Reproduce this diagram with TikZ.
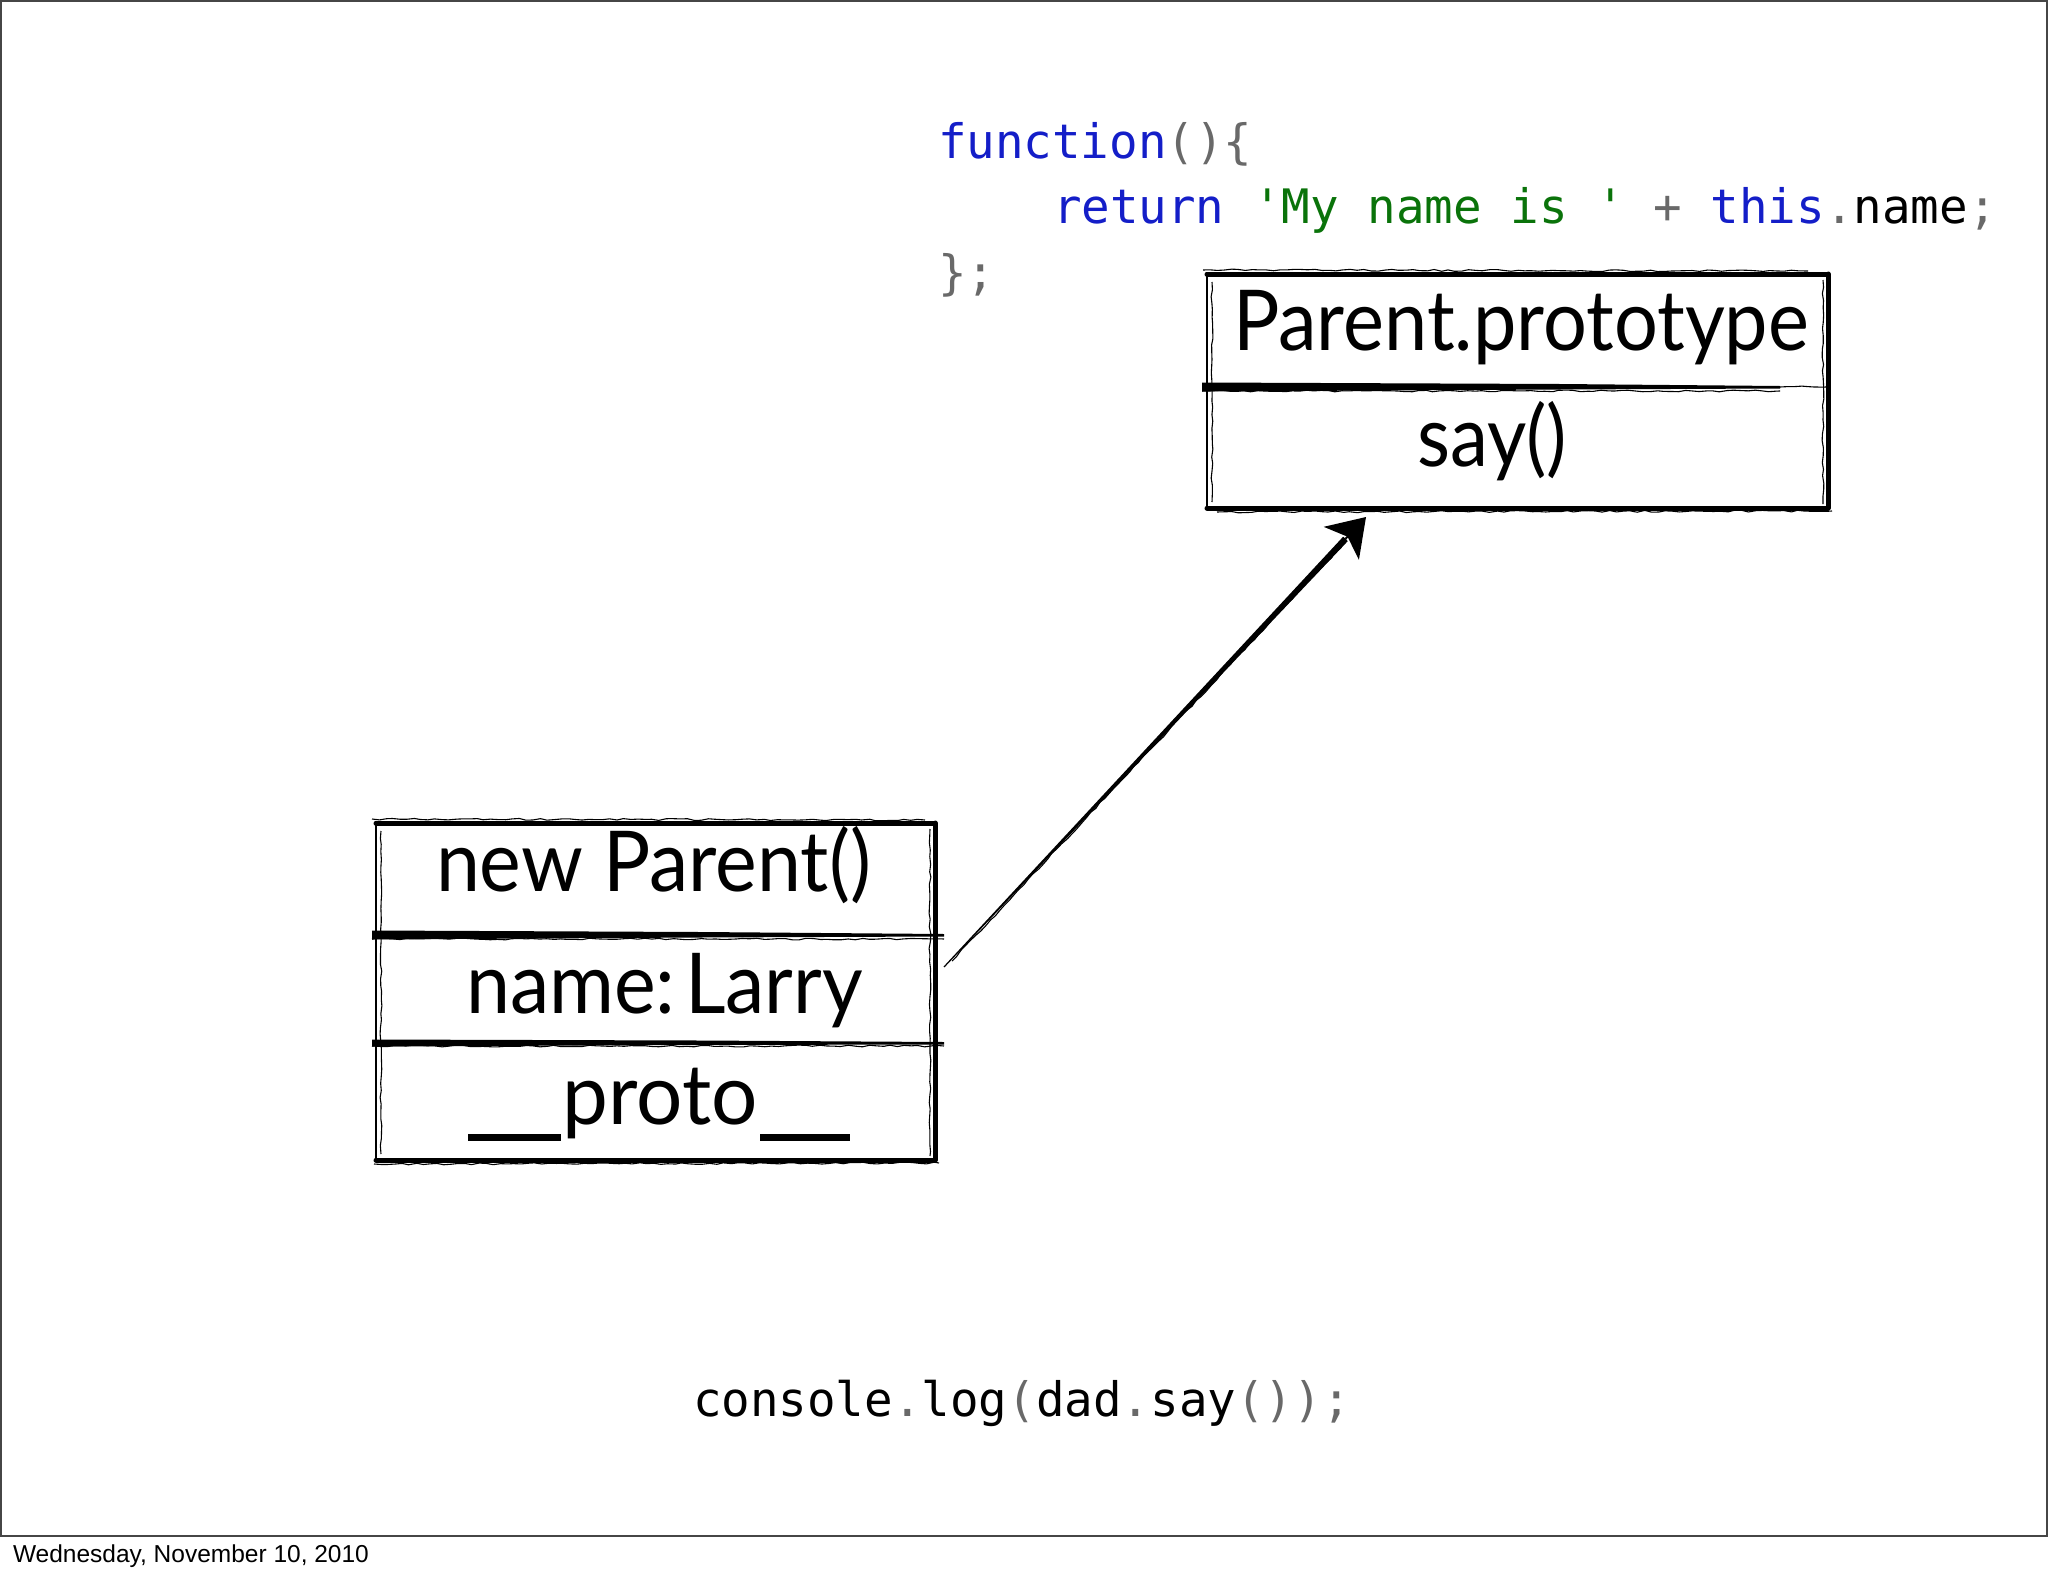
\documentclass[tikz,border=0pt]{standalone}
\usepackage{fontspec}
\setmainfont{Lato}
\newfontfamily\codefont{DejaVu Sans Mono}
\newfontfamily\datefont{Liberation Sans}
\usetikzlibrary{arrows.meta,decorations.pathmorphing,calc}
\definecolor{kwblue}{RGB}{20,30,200}
\definecolor{strgreen}{RGB}{10,115,10}
\definecolor{punct}{RGB}{105,105,105}
\definecolor{framegray}{RGB}{70,70,70}
\newcommand{\fitw}[2]{\resizebox{#1}{\height}{#2}}
\newcommand{\sq}{\char39\relax}
\newcommand{\pu}[1]{{\color{punct}#1}}
\newcommand{\ubar}[1]{\rule[-17pt]{#1}{7.5pt}}
\tikzset{
  frame/.style={draw=framegray, line width=1.6pt},
  boxarea/.style={draw=none, inner sep=0pt, outer sep=0pt},
  lbl/.style={inner sep=0pt, outer sep=0pt, font=\fontsize{84pt}{100pt}\selectfont},
  code/.style={inner sep=0pt, outer sep=0pt, font=\codefont\fontsize{47.5pt}{60pt}\selectfont},
  datelbl/.style={inner sep=0pt, outer sep=0pt, font=\datefont\fontsize{24.5pt}{30pt}\selectfont},
  edgethin/.style={line width=2.4pt, line cap=round},
  edgethick/.style={line width=5pt, line cap=round},
  rough/.style={line width=1.1pt, decorate, decoration={random steps, segment length=7pt, amplitude=0.9pt}},
  divfill/.style={fill=black},
  arrowfill/.style={fill=black},
  arrowhead/.style={line width=2pt, -{Stealth[length=36pt,width=48pt,inset=9pt]}},
}
\begin{document}
\begin{tikzpicture}[x=1pt,y=-1pt]
\pgfmathsetseed{7}
\useasboundingbox (0,0) rectangle (2048,1576);
\draw[frame] (1,1) rectangle (2047,1536);

% ---------- code at top ----------
\node[code, anchor=base west] (fnA) at (938,158) {{\color{kwblue}function}\pu{()\{}};
\node[code, anchor=base west] (fnB) at (1053,223) {{\color{kwblue}return} {\color{strgreen}\sq My name is \sq} \pu{+} {\color{kwblue}this}\pu{.}name\pu{;}};
\node[code, anchor=base west] (fnC) at (938,289) {\pu{\};}};

% ---------- Parent.prototype box ----------
\node[boxarea, minimum width=621pt, minimum height=234pt, anchor=north west] (protobox) at (1207,274) {};
\node[lbl, anchor=base west] (ptitle) at (1233,350) {\fitw{576pt}{Parent.prototype}};
\node[lbl, anchor=base west] (psay) at (1417,466) {\fitw{150pt}{say()}};
\draw[edgethin] (protobox.north west) -- (protobox.south west);
\draw[edgethick] (protobox.north west) -- (protobox.north east);
\draw[edgethick] (protobox.north east) -- (protobox.south east);
\draw[edgethick] (protobox.south west) -- (protobox.south east);
\draw[rough] ($(protobox.north west)+(-4,-4)$) -- ($(protobox.north east)+(-20,-3)$);
\draw[rough] ($(protobox.south west)+(10,4)$) -- ($(protobox.south east)+(4,3)$);
\draw[rough] ($(protobox.north west)+(5,8)$) -- ($(protobox.south west)+(5,-6)$);
\draw[rough] ($(protobox.north east)+(-5,6)$) -- ($(protobox.south east)+(-5,-4)$);
\coordinate (pdL) at (1202,387);
\coordinate (pdM) at (1560,387);
\coordinate (pdR) at (1780,387);
\fill[divfill] ($(pdL)+(0,-4.5)$) -- ($(pdM)+(0,-3)$) -- ($(pdR)+(0,-1)$) -- ($(pdR)+(0,1.5)$) -- ($(pdM)+(0,2.5)$) -- ($(pdL)+(0,4.5)$) -- cycle;
\draw[rough] ($(pdL)+(0,4)$) -- ($(pdR)+(0,4)$);
\draw[rough] (pdR) -- ($(protobox.east |- pdR)$);

% ---------- new Parent() box ----------
\node[boxarea, minimum width=559pt, minimum height=337pt, anchor=north west] (newbox) at (376,823) {};
\node[lbl, anchor=base west] (ntitle) at (436,891) {\fitw{435pt}{new Parent()}};
\node[lbl, anchor=base west] (nname) at (466,1013) {\fitw{397pt}{name:\hspace{0.12em}Larry}};
\node[lbl, anchor=base west] (nproto) at (468,1124) {\fitw{382pt}{\ubar{96pt}\hspace{1pt}proto\hspace{3pt}\ubar{92pt}}};
\draw[edgethin] (newbox.north west) -- (newbox.south west);
\draw[edgethick] (newbox.north west) -- (newbox.north east);
\draw[edgethick] (newbox.north east) -- (newbox.south east);
\draw[edgethick] (newbox.south west) -- (newbox.south east);
\draw[rough] ($(newbox.north west)+(-4,-4)$) -- ($(newbox.north east)+(-10,-3)$);
\draw[rough] ($(newbox.south west)+(-2,4)$) -- ($(newbox.south east)+(4,3)$);
\draw[rough] ($(newbox.north west)+(5,8)$) -- ($(newbox.south west)+(5,-6)$);
\draw[rough] ($(newbox.north east)+(-5,6)$) -- ($(newbox.south east)+(-5,-4)$);
\coordinate (ndAL) at (372,935);
\coordinate (ndAM) at (700,935);
\coordinate (ndAR) at (944,935);
\fill[divfill] ($(ndAL)+(0,-4.5)$) -- ($(ndAM)+(0,-3)$) -- ($(ndAR)+(0,-1)$) -- ($(ndAR)+(0,1.5)$) -- ($(ndAM)+(0,2.5)$) -- ($(ndAL)+(0,4.5)$) -- cycle;
\draw[rough] ($(ndAL)+(0,4)$) -- ($(ndAR)+(0,4)$);
\coordinate (ndBL) at (372,1043);
\coordinate (ndBM) at (700,1043);
\coordinate (ndBR) at (944,1043);
\fill[divfill] ($(ndBL)+(0,-3.5)$) -- ($(ndBM)+(0,-2.5)$) -- ($(ndBR)+(0,-1)$) -- ($(ndBR)+(0,1.5)$) -- ($(ndBM)+(0,2)$) -- ($(ndBL)+(0,3.5)$) -- cycle;
\draw[rough] ($(ndBL)+(0,3)$) -- ($(ndBR)+(0,3)$);

% ---------- arrow ----------
\coordinate (astart) at (944,967);
\coordinate (aend) at (1366,517);
\coordinate (abase) at ($(aend)!30pt!(astart)$);
\fill[arrowfill] ($(astart)!0.6pt!90:(aend)$) -- ($(abase)!3.2pt!-90:(astart)$) -- ($(abase)!3.2pt!90:(astart)$) -- ($(astart)!0.6pt!-90:(aend)$) -- cycle;
\draw[arrowhead] (abase) -- (aend);
\draw[rough] ($(astart)+(8,-6)$) -- ($(abase)+(-3,6)$);

% ---------- console line ----------
\node[code, anchor=base west] (console) at (693,1416) {console\pu{.}log\pu{(}dad\pu{.}say\pu{())}\pu{;}};

% ---------- date ----------
\node[datelbl, anchor=base west] (date) at (13,1562) {Wednesday, November 10, 2010};
\end{tikzpicture}
\end{document}
